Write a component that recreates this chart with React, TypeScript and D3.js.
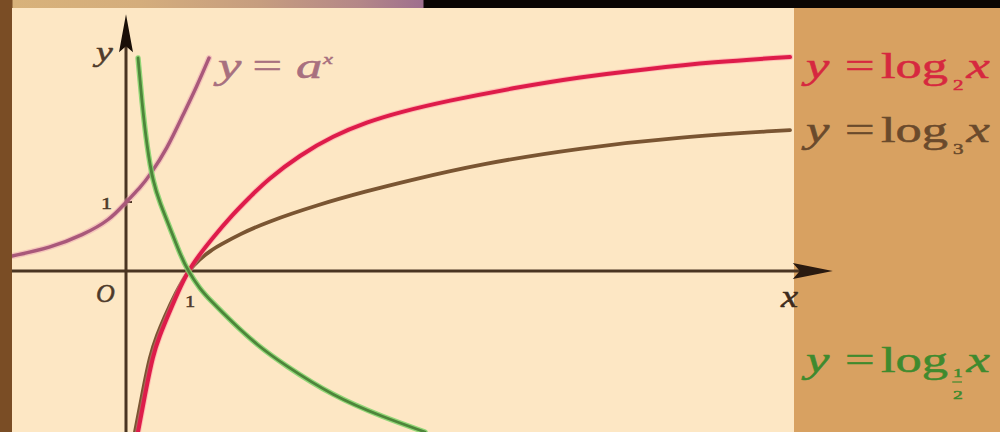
import React from "react";
import * as d3 from "d3";

const W = 1000;
const H = 432;
const SERIF = "'Liberation Serif', 'Times New Roman', 'DejaVu Serif', serif";

// Sampled points [x, y] of each curve, in graph units.
const log2Points: [number, number][] = [
  [0.194, -2.333], [0.306, -1.797], [0.435, -1.217], [0.548, -0.928],
  [0.661, -0.681], [0.839, -0.304], [1.0, 0], [1.194, 0.246],
  [1.355, 0.435], [1.726, 0.826], [2.0, 1.072], [2.274, 1.319],
  [2.806, 1.681], [3.339, 1.957], [3.887, 2.159], [4.419, 2.304],
  [5.177, 2.464], [6.242, 2.652], [7.323, 2.812], [8.403, 2.928],
  [9.468, 3.029], [10.71, 3.101],
];

const log3Points: [number, number][] = [
  [0.145, -2.333], [0.258, -1.797], [0.387, -1.217], [0.5, -0.928],
  [0.613, -0.681], [0.806, -0.304], [1.0, 0], [1.194, 0.174],
  [1.355, 0.29], [1.516, 0.377], [1.839, 0.536], [2.274, 0.71],
  [3.081, 0.957], [3.887, 1.159], [4.532, 1.304], [5.71, 1.551],
  [7.323, 1.783], [8.935, 1.942], [10.71, 2.043],
];

const logHalfPoints: [number, number][] = [
  [0.194, 3.087], [0.258, 2.435], [0.339, 1.797], [0.435, 1.29],
  [0.548, 0.986], [0.71, 0.623], [0.871, 0.246], [1.0, 0],
  [1.194, -0.261], [1.355, -0.42], [1.726, -0.754], [2.113, -1.072],
  [2.532, -1.348], [3.339, -1.812], [4.145, -2.116], [4.823, -2.333],
];

const expPoints: [number, number][] = [
  [-1.839, 0.217], [-1.226, 0.333], [-0.694, 0.522], [-0.258, 0.739],
  [0, 1], [0.226, 1.203], [0.387, 1.391], [0.661, 1.768],
  [0.919, 2.261], [1.145, 2.681], [1.339, 3.087],
];

const xTickLabels = [1];
const yTickLabels = [1];

// axis extents in graph units
const xAxisRange: [number, number] = [-1.84, 11.4];
const yAxisRange: [number, number] = [-2.35, 3.72];

export default function App() {
  const x = d3.scaleLinear().domain([0, 1]).range([126, 188]);
  const y = d3.scaleLinear().domain([0, 1]).range([271, 202]);

  const line = d3
    .line<[number, number]>()
    .x((d) => x(d[0]))
    .y((d) => y(d[1]))
    .curve(d3.curveBasis);

  const axisColor = "#4a3522";
  const x0 = x(0);
  const y0 = y(0);
  const xTip = x(xAxisRange[1]);
  const yTip = y(yAxisRange[1]);

  const label = (fill: string) => ({ fill, stroke: fill, strokeWidth: 0.5 });

  return (
    <svg
      width={W}
      height={H}
      style={{ position: "absolute", left: 0, top: 0, display: "block" }}
      fontFamily={SERIF}
    >
      <defs>
        <linearGradient id="topBand" gradientUnits="userSpaceOnUse" x1={0} x2={W} y1={0} y2={0}>
          <stop offset="0" stopColor="#7a4d25" />
          <stop offset="0.012" stopColor="#7a4d25" />
          <stop offset="0.013" stopColor="#d8b27a" />
          <stop offset="0.14" stopColor="#d4ad7c" />
          <stop offset="0.26" stopColor="#c69d7f" />
          <stop offset="0.36" stopColor="#b48788" />
          <stop offset="0.423" stopColor="#9f6f8e" />
          <stop offset="0.424" stopColor="#0a0503" />
          <stop offset="1" stopColor="#0a0503" />
        </linearGradient>
        <clipPath id="plotClip">
          <rect x={12} y={8} width={782} height={H - 8} />
        </clipPath>
      </defs>

      {/* backgrounds */}
      <rect x={0} y={0} width={W} height={H} fill="#fde7c4" />
      <rect x={794} y={8} width={W - 794} height={H - 8} fill="#d8a161" />
      <rect x={0} y={0} width={W} height={8} fill="url(#topBand)" />
      <rect x={0} y={0} width={12} height={H} fill="#7a4d25" />

      {/* axes */}
      <line x1={x(xAxisRange[0])} x2={xTip - 30} y1={y0} y2={y0} stroke={axisColor} strokeWidth={3} />
      <path
        d={`M${xTip},${y0} L${xTip - 40},${y0 - 8} L${xTip - 33},${y0} L${xTip - 40},${y0 + 8} Z`}
        fill="#2a1a10"
      />
      <line x1={x0} x2={x0} y1={y(yAxisRange[0])} y2={yTip + 30} stroke={axisColor} strokeWidth={3} />
      <path
        d={`M${x0},${yTip} L${x0 + 7},${yTip + 38} L${x0},${yTip + 32} L${x0 - 7},${yTip + 38} Z`}
        fill="#1a0f08"
      />
      {yTickLabels.map((v) => (
        <line key={`ytk${v}`} x1={x0} x2={x0 + 6} y1={y(v)} y2={y(v)} stroke={axisColor} strokeWidth={2} />
      ))}

      {/* curves */}
      <g clipPath="url(#plotClip)" fill="none" strokeLinecap="round">
        <path d={line(expPoints) ?? ""} stroke="#e99ab0" strokeWidth={6} opacity={0.45} />
        <path d={line(expPoints) ?? ""} stroke="#a9587a" strokeWidth={3.4} />
        <path d={line(log3Points) ?? ""} stroke="#7a5532" strokeWidth={3.8} />
        <path d={line(log2Points) ?? ""} stroke="#ff7f9c" strokeWidth={6} opacity={0.4} />
        <path d={line(log2Points) ?? ""} stroke="#de1c4a" strokeWidth={4} />
        <path d={line(logHalfPoints) ?? ""} stroke="#7fd26a" strokeWidth={5.4} opacity={0.85} />
        <path d={line(logHalfPoints) ?? ""} stroke="#4d853a" strokeWidth={2.8} />
      </g>

      {/* axis labels */}
      <text transform="translate(96,61) scale(1.35,1)" fontSize={28} fontStyle="italic" {...label("#4e3a2a")}>
        y
      </text>
      <text x={96} y={302} fontSize={26} fontStyle="italic" {...label("#4e3a2a")}>
        O
      </text>
      <text transform="translate(781,307) scale(1.2,1)" fontSize={32} fontStyle="italic" {...label("#3e2b1c")}>
        x
      </text>
      {yTickLabels.map((v) => (
        <text key={`yt${v}`} transform={`translate(${x0 - 25},${y(v) + 7}) scale(1.3,1)`} fontSize={17} {...label("#4e3a2a")}>
          {v}
        </text>
      ))}
      {xTickLabels.map((v) => (
        <text key={`xt${v}`} transform={`translate(${x(v) - 3},${y0 + 36}) scale(1.2,1)`} fontSize={17} {...label("#4e3a2a")}>
          {v}
        </text>
      ))}

      {/* y = a^x */}
      <g transform="translate(218,78) scale(1.5,1)" fontSize={35} {...label("#a8707f")}>
        <text x={0} fontStyle="italic">y</text>
        <text x={23}>=</text>
        <text x={52} fontStyle="italic">a</text>
        <text x={70} y={-14} fontSize={15} fontStyle="italic">x</text>
      </g>

      {/* y = log2 x */}
      <g transform="translate(806,78) scale(1.5,1)" fontSize={35} {...label("#d6283f")}>
        <text x={0} fontStyle="italic">y</text>
        <text x={26}>=</text>
        <text x={50}>log</text>
        <text x={98} y={12} fontSize={14}>2</text>
        <text x={107} fontStyle="italic">x</text>
      </g>

      {/* y = log3 x */}
      <g transform="translate(806,142) scale(1.5,1)" fontSize={35} {...label("#6a4a2c")}>
        <text x={0} fontStyle="italic">y</text>
        <text x={26}>=</text>
        <text x={50}>log</text>
        <text x={98} y={12} fontSize={14}>3</text>
        <text x={107} fontStyle="italic">x</text>
      </g>

      {/* y = log1/2 x */}
      <g transform="translate(806,372) scale(1.5,1)" fontSize={35} {...label("#3f8a2e")}>
        <text x={0} fontStyle="italic">y</text>
        <text x={26}>=</text>
        <text x={50}>log</text>
        <text x={98} y={5} fontSize={13}>1</text>
        <line x1={97.5} x2={104} y1={10} y2={10} strokeWidth={1.2} />
        <text x={98} y={27} fontSize={13}>2</text>
        <text x={107} fontStyle="italic">x</text>
      </g>
    </svg>
  );
}
